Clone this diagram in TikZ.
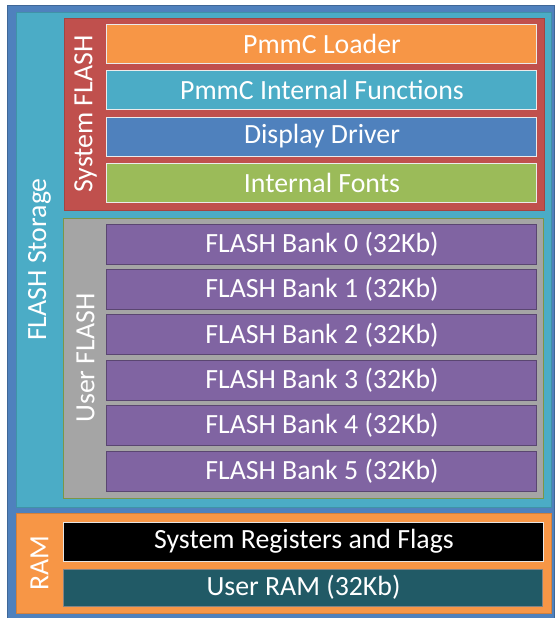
\documentclass[tikz,border=0pt]{standalone}
\usepackage{fontspec}
\setmainfont{Carlito}
\definecolor{ofblue}{HTML}{4F81BD}
\definecolor{ofteal}{HTML}{4BACC6}
\definecolor{ofred}{HTML}{C0504D}
\definecolor{oforange}{HTML}{F79646}
\definecolor{ofgreen}{HTML}{9BBB59}
\definecolor{ofpurple}{HTML}{8064A2}
\definecolor{ofgray}{HTML}{A5A5A5}
\definecolor{ofdark}{HTML}{215A66}
\tikzset{
  memtxt/.style={text=white,font=\fontsize{13.9}{16}\selectfont},
  sysblk/.style={draw=white!92!black,line width=.5pt},
  bankblk/.style={fill=ofpurple,draw=ofpurple!70!black,line width=.5pt}
}
\begin{document}
\begin{tikzpicture}[x=.5pt,y=-.5pt]
\useasboundingbox (0,0) rectangle (554,618);
% outer frame and flash storage
\draw[fill=ofblue,draw=ofblue!80!black,line width=.4pt] (7,5) rectangle (554,618);
\draw[fill=ofteal,draw=ofteal!85!black,line width=.4pt] (16,12) rectangle (551,507);
\node[memtxt,rotate=90] (storage) at (39.5,259.5) {FLASH Storage};
% system flash
\draw[fill=ofred,draw=ofred!85!black,line width=.4pt] (64,18) rectangle (544,210);
\node[memtxt,rotate=90] (sysflash) at (85.5,114) {System FLASH};
\draw[sysblk,fill=oforange] (107,24) rectangle (537,63) node[midway,memtxt] (loader) {PmmC Loader};
\draw[sysblk,fill=ofteal] (107,70) rectangle (537,109) node[midway,memtxt] (intfn) {PmmC Internal Functions};
\draw[sysblk,fill=ofblue] (107,117) rectangle (537,156) node[midway,memtxt] (disp) {Display Driver};
\draw[sysblk,fill=ofgreen] (107,163) rectangle (537,202) node[midway,memtxt] (fonts) {Internal Fonts};
% user flash
\draw[fill=ofgray,draw=ofgreen!80!black,line width=.5pt] (64,218) rectangle (544,498);
\node[memtxt,rotate=90] (usrflash) at (85.5,358) {User FLASH};
\foreach \i in {0,...,5}
  \draw[bankblk,shift={(0,45.4*\i)}] (107,224) rectangle (537,264) node[midway,memtxt] (bank\i) {FLASH Bank \i\ (32Kb)};
% ram
\draw[fill=oforange,draw=oforange!85!black,line width=.4pt] (16,513) rectangle (551,613);
\node[memtxt,rotate=90] (ram) at (39.5,563) {RAM};
\draw[fill=black,draw=white!90!black,line width=.5pt] (64,522) rectangle (544,561) node[midway,memtxt] (sysreg) {System Registers and Flags};
\draw[fill=ofdark,draw=ofgray!80!black,line width=.5pt] (64,569) rectangle (543,606) node[midway,memtxt] (usrram) {User RAM (32Kb)};
\end{tikzpicture}
\end{document}
